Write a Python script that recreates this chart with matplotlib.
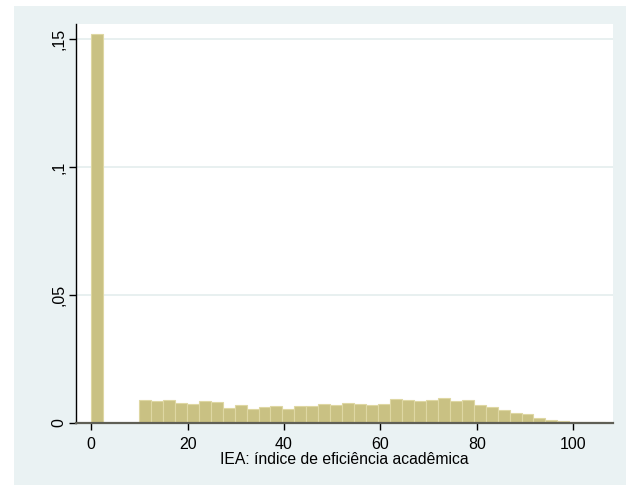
import numpy as np
import matplotlib
matplotlib.use('Agg')
import matplotlib.pyplot as plt
from matplotlib.patches import Rectangle

# histogram of IEA (density), bins of ~2.48 starting at 0
bin_width = 2.48
density = [0.152, 0.0, 0.0, 0.0,
           0.0090, 0.0085, 0.0090, 0.0079, 0.0076, 0.0086, 0.0081, 0.0060,
           0.0069, 0.0053, 0.0063, 0.0066, 0.0056, 0.0065, 0.0066, 0.0074,
           0.0070, 0.0077, 0.0073, 0.0072, 0.0076, 0.0095, 0.0090, 0.0086,
           0.0091, 0.0098, 0.0086, 0.0090, 0.0072, 0.0063, 0.0052, 0.0038,
           0.0034, 0.0021, 0.0012, 0.0008, 0.0003, 0.0002, 0.0002]
xticks = [0, 20, 40, 60, 80, 100]
yticks = [0, 0.05, 0.1, 0.15]
ytick_labels = ['0', ',05', ',1', ',15']
xlabel = 'IEA: índice de eficiência acadêmica'

plt.rcParams['font.family'] = ['Liberation Sans', 'DejaVu Sans']

fig = plt.figure(figsize=(6.26, 4.87), dpi=100, facecolor='white')
# stata style outer background, kept behind the axes
fig.patches.append(Rectangle((14/626, 2/487), 1 - 14/626, (481-2)/487,
                             transform=fig.transFigure, facecolor='#EAF2F3',
                             edgecolor='none', zorder=-10))

ax = fig.add_axes([76/626, 64/487, 536.7/626, 399/487])
ax.set_facecolor('white')

lefts = np.arange(len(density)) * bin_width
ax.bar(lefts, density, width=bin_width, align='edge',
       color='#C9C183', edgecolor='#DED7A3', linewidth=0.8, zorder=2)

ax.set_xlim(-3.15, 108.2)
ax.set_ylim(0, 0.156)

ax.set_yticks(yticks)
ax.set_yticklabels(ytick_labels, rotation=90, va='center')
ax.set_xticks(xticks)
ax.yaxis.grid(True, color='#E4EDEE', linewidth=1.2, zorder=1)
ax.set_axisbelow(True)

for s in ['top', 'right']:
    ax.spines[s].set_visible(False)
ax.spines['left'].set_color('black')
ax.spines['left'].set_linewidth(1.0)
ax.spines['bottom'].set_color('#5f5f55')
ax.spines['bottom'].set_linewidth(1.6)
ax.spines['bottom'].set_zorder(3)

ax.tick_params(axis='both', labelsize=11.5, length=5, width=1, color='black')
ax.tick_params(axis='x', pad=5)
ax.tick_params(axis='y', pad=2)

ax.set_xlabel(xlabel, fontsize=11.3)
ax.xaxis.set_label_coords(0.5, -0.1035)
ax.xaxis.label.set_va('baseline')

fig.savefig('out.png', dpi=100, facecolor='white')
